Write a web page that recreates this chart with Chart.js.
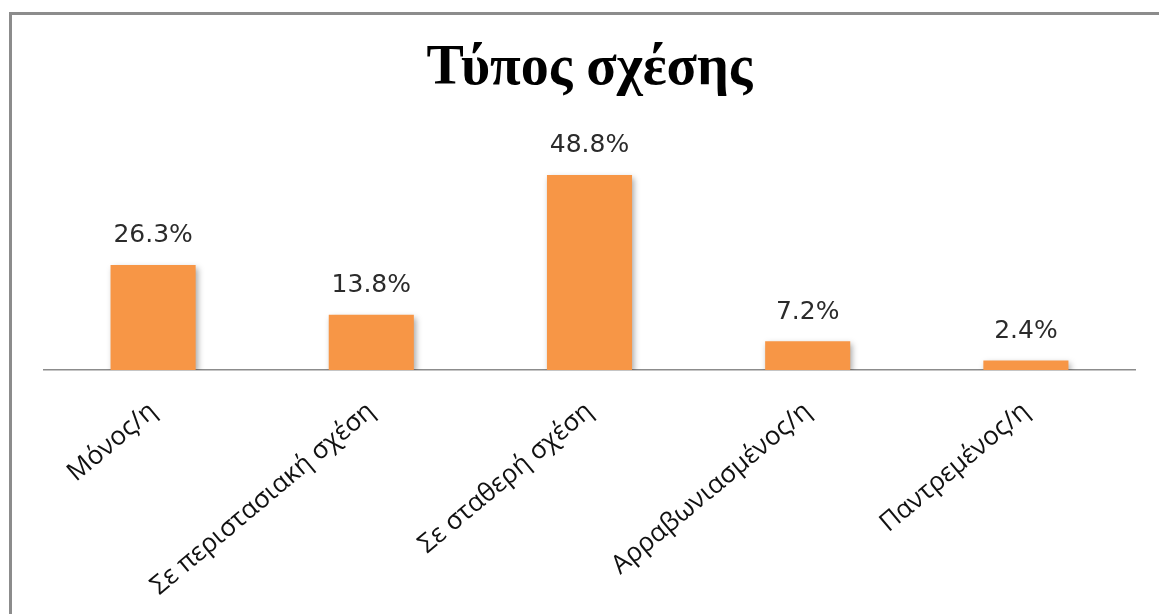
<!DOCTYPE html>
<html>
<head>
<meta charset="utf-8">
<script src="https://cdn.jsdelivr.net/npm/chart.js@4"></script>
<style>
  html, body { margin: 0; padding: 0; background: #fff; overflow: hidden; }
  #wrap { position: relative; width: 1159px; height: 614px; }
  #frame {
    position: absolute; left: 9px; top: 12px; width: 1200px; height: 700px;
    border: 3px solid #8c8c8c; box-sizing: border-box;
  }
  canvas { position: absolute; left: 0; top: 0; }
</style>
</head>
<body>
<div id="wrap">
  <div id="frame"></div>
  <canvas id="chart" width="1159" height="614"></canvas>
</div>
<script>
// Chart data
const categories = ["Μόνος/η", "Σε περιστασιακή σχέση", "Σε σταθερή σχέση", "Αρραβωνιασμένος/η", "Παντρεμένος/η"];
const shares = [26.3, 13.8, 48.8, 7.2, 2.4];
const chartTitle = "Τύπος σχέσης";

// Soft shadow behind the bars
const barShadow = {
  id: "barShadow",
  beforeDatasetsDraw(chart) {
    const ctx = chart.ctx;
    ctx.save();
    ctx.shadowColor = "rgba(0,0,0,0.35)";
    ctx.shadowBlur = 6;
    ctx.shadowOffsetX = 2;
    ctx.shadowOffsetY = 3;
  },
  afterDatasetsDraw(chart) {
    chart.ctx.restore();
  },
};

// Percent labels above each bar
const valueLabels = {
  id: "valueLabels",
  afterDraw(chart) {
    const ctx = chart.ctx;
    const meta = chart.getDatasetMeta(0);
    ctx.save();
    ctx.font = "25px 'DejaVu Sans'";
    ctx.fillStyle = "#2b2b2b";
    ctx.textAlign = "center";
    ctx.textBaseline = "middle";
    meta.data.forEach((bar, i) => {
      ctx.fillText(shares[i].toFixed(1) + "%", bar.x, bar.y - 29);
    });
    ctx.restore();
  },
};

const ctx = document.getElementById("chart").getContext("2d");
new Chart(ctx, {
  type: "bar",
  data: {
    labels: categories,
    datasets: [
      {
        data: shares,
        backgroundColor: "#F79646",
        borderWidth: 0,
        categoryPercentage: 1,
        barPercentage: 0.39,
      },
    ],
  },
  options: {
    responsive: false,
    animation: false,
    layout: {
      padding: { left: 44, right: 24, top: 8, bottom: 0 },
    },
    plugins: {
      legend: { display: false },
      tooltip: { enabled: false },
      title: {
        display: true,
        text: chartTitle,
        color: "#000",
        font: { family: "'Liberation Serif'", size: 56, weight: "bold" },
        padding: { top: 28, bottom: 27 },
      },
    },
    scales: {
      x: {
        grid: { display: false },
        border: { display: true, color: "#8c8c8c", width: 1.5 },
        ticks: {
          color: "#111111",
          font: { family: "'Open Sans'", size: 26 },
          minRotation: 40,
          maxRotation: 40,
          padding: 18,
        },
        afterFit(scale) {
          scale.height = 244;
          scale.paddingLeft = 0;
          scale.paddingRight = 0;
        },
      },
      y: {
        display: false,
        min: 0,
        max: 60,
      },
    },
  },
  plugins: [barShadow, valueLabels],
});
</script>
</body>
</html>
